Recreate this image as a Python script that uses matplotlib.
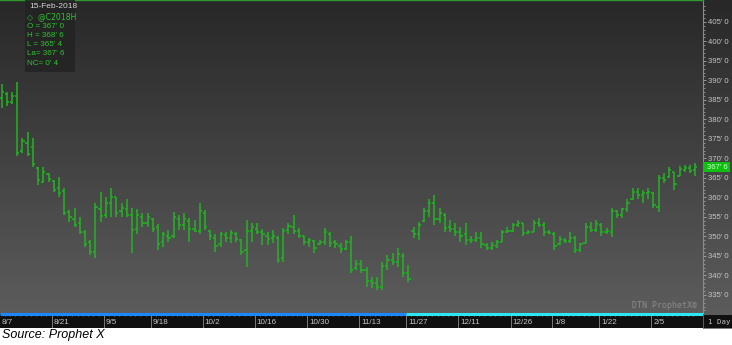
import numpy as np
import pandas as pd
import matplotlib
matplotlib.use("Agg")
import matplotlib.pyplot as plt
from matplotlib.colors import LinearSegmentedColormap
from matplotlib.patches import Rectangle
from matplotlib.ticker import FixedLocator, FuncFormatter
import matplotlib.transforms as mtransforms

# trading days shown on the chart (exchange holidays removed)
holidays = ["2017-09-04", "2017-11-23", "2017-12-25", "2018-01-01", "2018-01-15"]
dates = pd.bdate_range("2017-08-07", "2018-02-15")
dates = dates[~dates.isin(pd.to_datetime(holidays))]

# daily OHLC, cents per bushel
opens = [385.5, 386.5, 384.5, 386, 372, 374, 373, 367.5, 364, 366,
         364.25, 362.5, 361.75, 356.25, 354.5, 353.5, 351, 348.5, 346, 357,
         355.5, 358.5, 360, 356.5, 357, 355.5, 352, 355, 353.5, 354.5,
         352.5, 348.5, 350, 350, 354.5, 353, 354, 352, 351.5, 356,
         351.5, 349.5, 348, 350.25, 349.5, 350.5, 349, 346.5, 351.5, 352,
         351.25, 350, 349.5, 349.5, 344.5, 351.75, 352.5, 351.5, 350, 348.5,
         348.75, 348, 348.5, 350.5, 348.5, 347.5, 346.75, 348.5, 342, 343,
         341.5, 338.5, 338, 337, 342.5, 344, 343.5, 345, 340.5, 351.5,
         350.5, 354, 356.5, 358.5, 354.5, 355.5, 352.5, 352, 351, 350.5,
         349, 349, 349.5, 347.75, 347, 347.5, 348.5, 351, 351.5, 353,
         353.5, 350.75, 351.25, 353.5, 353, 351, 350.5, 348, 349, 348.75,
         349.5, 346.5, 348.25, 352.5, 351.75, 353, 351, 351, 356.5, 355.5,
         357, 359.5, 361.5, 360.5, 361, 361, 357.5, 365, 365.25, 366.5,
         365.5, 367, 367.5, 367]
highs = [389, 387, 387, 389.5, 375.25, 376.75, 375.25, 367.75, 367.75, 366.25,
         364.5, 365.25, 362.5, 356.75, 357.25, 355, 351.75, 349, 358.5, 361.25,
         360, 362.5, 360, 358.5, 359.5, 357.25, 357, 356, 356, 354.75,
         353.25, 351.25, 351.75, 356.25, 355.5, 356, 354.75, 354.25, 358.5, 356.75,
         351.75, 350.5, 351.25, 351.25, 351.75, 351, 349.25, 354.25, 353.5, 353.5,
         352, 351, 351.75, 350, 352.25, 353.5, 355.5, 352.25, 350, 349.5,
         349, 349, 352.25, 351, 349, 348.25, 349, 350, 344, 344,
         342.25, 339.5, 339.5, 343.5, 345.25, 345.75, 347, 345.75, 342.75, 352.5,
         353.75, 357.25, 359.5, 360.5, 357.25, 356, 354.25, 353.5, 352.5, 353.5,
         350, 351, 351, 348.25, 348.5, 349, 351.75, 352.5, 353.5, 354.25,
         353.5, 351.75, 354.25, 354.75, 353.75, 351.75, 351.25, 350, 349.5, 351,
         350, 348.25, 353.5, 353.75, 354.25, 353.5, 352.25, 357.25, 356.75, 357.25,
         359.5, 362.5, 362.5, 362, 362.5, 361.25, 365.75, 366.25, 367.75, 366.5,
         368, 368.25, 368.25, 368.75]
lows = [383, 383.5, 384, 370.5, 371.5, 370.5, 367.75, 363.25, 363.75, 364,
        361.25, 360, 355.5, 353.75, 352.5, 350.5, 347.25, 345.25, 344.5, 353.75,
        354.75, 355, 355, 355, 355, 345.75, 350.5, 352.5, 352.5, 351,
        346.5, 347.25, 348.5, 349.5, 351.75, 351.75, 348.5, 351, 350.5, 351.75,
        349, 346, 347.25, 348.5, 348.25, 348.5, 345.25, 342.25, 348.5, 350.5,
        347.75, 347.75, 348.25, 343.25, 343.5, 350.5, 350.5, 349.5, 347.75, 347.25,
        345.75, 347.75, 347.75, 347.25, 347, 345.75, 346.5, 340.5, 341.5, 340.5,
        337, 336.75, 336.25, 336.25, 341.5, 342.75, 342.25, 339.5, 338.25, 349.5,
        349, 353.75, 355, 353, 353.5, 351, 351, 350, 348.5, 347.75,
        348.25, 348.5, 347, 346.5, 346.5, 347, 348.5, 350.75, 351.25, 352.5,
        350, 350.5, 351, 352.5, 350, 350.5, 346.5, 347.75, 348.25, 348.25,
        345.75, 346, 348.25, 351, 351, 350, 350.5, 349.75, 354.75, 354.75,
        356.25, 359.25, 359.5, 358.5, 359.5, 357.25, 356.25, 363.75, 365, 362,
        365.5, 366.5, 366.25, 365.5]
closes = [387, 384.5, 386, 371.5, 374.5, 371, 368.5, 364.5, 366.5, 364.75,
          362, 361, 356, 355, 353, 351.25, 348, 346, 357.5, 355.25,
          358.5, 360, 356, 357.25, 355.5, 351.75, 355.5, 353.5, 355, 352,
          348, 350.5, 349.5, 355, 353, 354.5, 352, 351.5, 356.5, 352.5,
          350, 347.5, 350.5, 349.5, 350.75, 349.25, 346, 351.5, 352.5, 351,
          350.5, 349.25, 350, 344, 351.5, 352.75, 351.5, 350, 348.5, 349,
          347, 348.5, 351, 348.25, 348, 346.75, 348.5, 341.5, 343, 341.5,
          338.5, 338, 337, 342.5, 344, 343.5, 345.5, 340.5, 339, 350.5,
          353, 356.5, 358.5, 354.5, 356, 352.25, 352, 351, 350, 349,
          349, 349.5, 348, 347, 347.75, 348.5, 351, 351.5, 353, 353.5,
          350.75, 351.25, 353.5, 353, 351, 350.75, 347.5, 349.25, 348.75, 349.5,
          346.5, 348, 352.5, 351.75, 353.25, 351, 351.5, 356.5, 355.5, 357,
          358.5, 361.5, 360.5, 361, 361.5, 358, 365, 364.5, 367, 363.5,
          367.25, 367.5, 366.75, 367.75]

tick_dates = ["2017-08-07", "2017-08-21", "2017-09-05", "2017-09-18", "2017-10-02",
              "2017-10-16", "2017-10-30", "2017-11-13", "2017-11-27", "2017-12-11",
              "2017-12-26", "2018-01-08", "2018-01-22", "2018-02-05"]
tick_labels = ["8/7", "8/21", "9/5", "9/18", "10/2", "10/16", "10/30", "11/13",
               "11/27", "12/11", "12/26", "1/8", "1/22", "2/5"]
price_ticks = list(range(335, 410, 5))
roll_date = "2017-11-27"

symbol = "@C2018H"
last_date = "15-Feb-2018"
info_lines = ["O = 367' 0", "H = 368' 6", "L = 365' 4", "La= 367' 6", "NC= 0' 4"]
last_label = "367' 6"

BAR = "#22b422"
SMALL = "Liberation Sans"
W, H = 732, 345
chart_w = 703 / W
bottom = 31 / H

fig = plt.figure(figsize=(W / 100, H / 100), dpi=100, facecolor="white")

# dark gradient behind the chart and the price panel
bg = fig.add_axes([0, bottom, 1, 1 - bottom], zorder=0)
cmap = LinearSegmentedColormap.from_list("bg", ["#282828", "#5c5c5c"])
bg.imshow(np.linspace(0, 1, 256).reshape(-1, 1), aspect="auto", cmap=cmap,
          extent=[0, 1, 0, 1])
bg.set_axis_off()

ax = fig.add_axes([0, bottom, chart_w, 1 - bottom], zorder=1)
ax.patch.set_alpha(0)
x = np.arange(len(dates))
w = 0.42
ax.vlines(x, lows, highs, color=BAR, lw=1.1)
ax.hlines(opens, x - w, x, color=BAR, lw=1.1)
ax.hlines(closes, x, x + w, color=BAR, lw=1.1)
ax.set_xlim(-0.3, 134.5)
ax.set_ylim(330.1, 410.6)
ax.set_xticks([])

for s in ["left", "bottom"]:
    ax.spines[s].set_visible(False)
ax.spines["top"].set_color("#2e9a2e")
ax.spines["top"].set_linewidth(1.0)
ax.spines["right"].set_color("#8a8a8a")
ax.spines["right"].set_linewidth(0.8)

ax.yaxis.tick_right()
ax.yaxis.set_major_locator(FixedLocator(price_ticks))
ax.yaxis.set_minor_locator(FixedLocator(np.arange(331, 410, 1)))
ax.yaxis.set_major_formatter(FuncFormatter(lambda v, _: f"{int(v)}' 0"))
ax.tick_params(axis="y", which="major", direction="out", length=2.5, width=0.6,
               color="#a8a8a8", labelsize=5.6, labelcolor="#c4c4c4", pad=1)
ax.tick_params(axis="y", which="minor", direction="out", length=1.5, width=0.5,
               color="#a8a8a8")
for t in ax.get_yticklabels():
    t.set_family(SMALL)

# last price marker on the scale
trans = mtransforms.blended_transform_factory(ax.transAxes, ax.transData)
ax.add_patch(Rectangle((1.0, closes[-1] - 1.2), 0.039, 2.4, transform=trans,
                       facecolor="#10c010", edgecolor="none", clip_on=False,
                       zorder=5))
ax.text(1.006, closes[-1], last_label, transform=trans, ha="left", va="center",
        fontsize=5.6, family=SMALL, color="#c8ffc8", clip_on=False, zorder=6)

# info box at top left
ax.add_patch(Rectangle((25 / 703, 1 - 72 / 314), 50 / 703, 72 / 314,
                       transform=ax.transAxes, facecolor="#232323", alpha=0.85,
                       edgecolor="none", zorder=3))
ax.text(29 / 703, 1 - 7 / 314, last_date, transform=ax.transAxes, va="center",
        fontsize=6, family=SMALL, color="#d4d4d4", zorder=4)
ax.text(27 / 703, 1 - 16.5 / 314, "\u25c7  " + symbol, transform=ax.transAxes,
        va="center", fontsize=5.6, color="#2ec42e", zorder=4)
for k, line in enumerate(info_lines):
    ax.text(27 / 703, 1 - (26 + 9.3 * k) / 314, line, transform=ax.transAxes,
            va="center", fontsize=5.8, family=SMALL, color="#2ec42e", zorder=4)

ax.text(0.992, 0.012, "DTN ProphetX\u00ae", transform=ax.transAxes, ha="right",
        va="bottom", fontsize=6, family="DejaVu Sans Mono", color="#8a8a8a")

# date strip
dax = fig.add_axes([0, 17 / H, chart_w, 14 / H], zorder=2)
dax.set_facecolor("#101010")
dax.set_xlim(ax.get_xlim())
dax.set_ylim(0, 1)
dax.set_xticks([])
dax.set_yticks([])
for s in dax.spines.values():
    s.set_visible(False)
pos = {d: i for i, d in enumerate(dates.strftime("%Y-%m-%d"))}
tick_x = [pos[d] - 0.4 for d in tick_dates]
dax.vlines(tick_x, 0, 1, color="#8c8c8c", lw=0.6)
dax.vlines(x - 0.4, 0.86, 1, color="#9a9a9a", lw=0.5)
for tx, lab in zip(tick_x, tick_labels):
    dax.text(tx + 0.35, 0.42, lab, va="center", ha="left", fontsize=5.8,
             family=SMALL, color="#c4c4c4")
roll_x = pos[roll_date] - 0.4
xl = ax.get_xlim()
dax.plot([xl[0], roll_x], [1, 1], color="#1e86ff", lw=2.2, clip_on=False,
         solid_capstyle="butt")
dax.plot([roll_x, xl[1]], [1, 1], color="#2ee6f2", lw=2.2, clip_on=False,
         solid_capstyle="butt")

pax = fig.add_axes([chart_w, 17 / H, 1 - chart_w, 14 / H], zorder=2)
pax.set_facecolor("#101010")
pax.set_xticks([])
pax.set_yticks([])
for s in pax.spines.values():
    s.set_color("#6a6a6a")
    s.set_linewidth(0.6)
pax.text(0.18, 0.42, "1 Day", va="center", ha="left", fontsize=5.3,
         family="DejaVu Sans Mono", color="#c4c4c4", transform=pax.transAxes)

fig.text(0.003, 0.012, "Source: Prophet X", fontsize=9, style="italic",
         family="Liberation Sans", color="black", va="bottom", ha="left")

fig.savefig("out.png", dpi=100, facecolor="white")
